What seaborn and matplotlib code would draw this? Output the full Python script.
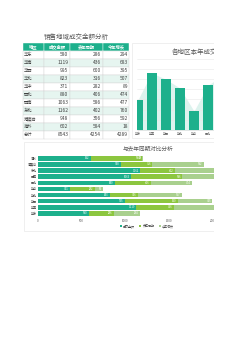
import matplotlib
matplotlib.use("Agg")
import matplotlib.pyplot as plt
from matplotlib.patches import Rectangle, Patch
import seaborn as sns
import pandas as pd

sns.set_theme(style="white")
plt.rcParams['font.family'] = ['Noto Sans CJK SC', 'DejaVu Sans']

# ---------------- data ----------------
regions = ['华东', '华南', '华西', '华北', '华中', '西北', '西南', '东北', '港澳台', '海外']
amount = [580, 1119, 995, 823, 371, 880, 1063, 1162, 948, 602]
last_year = [286, 436, 600, 316, 282, 406, 586, 402, 356, 584]
growth = [294, 683, 395, 507, 89, 474, 477, 760, 592, 18]
total_label = '总计'
totals = [8543, 4254, 4289]
headers = ['地区', '成交金额', '去年同期', '今年增长']
legend_labels = ['成交金额', '去年同期', '今年增长']
x_ticks = [0, 500, 1000, 1500, 2000]
table_title = '销售地域成交金额分析'
bar_title = '各地区本年成交金额'
stack_title = '与去年同期对比分析'

TEAL = '#1DB08C'
GREEN = '#8CC63F'
PALE = '#A9D08E'
LIGHT_ROW = '#E6F5F0'
AREA = '#DDF3EE'
TXT = '#404040'
GRAY = '#595959'

W, H = 250, 354
CROP = 213.5
fig = plt.figure(figsize=(W / 100, H / 100), dpi=100)
fig.patch.set_facecolor('white')


def rect(l, t, r, b):
    return [l / W, 1 - b / H, (r - l) / W, (b - t) / H]


# ---------------- background / table (pixel coords) ----------------
bg = fig.add_axes([0, 0, 1, 1])
bg.set_xlim(0, W)
bg.set_ylim(H, 0)
bg.axis('off')

bg.text(76, 36.7, table_title, ha='center', va='center', fontsize=4.7, color=GRAY)

col_edges = [22.7, 44.3, 70.0, 102.7, 129.3]
row_h = 8.0
top = 42.7
for j in range(4):
    bg.add_patch(Rectangle((col_edges[j], top), col_edges[j + 1] - col_edges[j], row_h,
                           facecolor=TEAL, edgecolor='white', lw=0.3))
    bg.text((col_edges[j] + col_edges[j + 1]) / 2, top + row_h / 2 + 0.2, headers[j],
            ha='center', va='center', fontsize=3.1, color='white', fontweight='bold')

rows = [[r, a, l, g] for r, a, l, g in zip(regions, amount, last_year, growth)]
rows.append([total_label] + totals)
for i, row in enumerate(rows):
    y0 = top + row_h * (i + 1)
    fc = LIGHT_ROW if (i % 2 == 1 and i < len(regions)) else 'white'
    for j in range(4):
        bg.add_patch(Rectangle((col_edges[j], y0), col_edges[j + 1] - col_edges[j], row_h,
                               facecolor=fc, edgecolor='#D4D4D4', lw=0.3))
    yc = y0 + row_h / 2 + 0.2
    bg.text(col_edges[0] + 1.2, yc, row[0], ha='left', va='center', fontsize=3.1, color=TXT)
    for j in range(1, 4):
        bg.text(col_edges[j + 1] - 1.5, yc, str(row[j]), ha='right', va='center',
                fontsize=3.5, color=TXT)

# chart frames (cut at the crop line like the sheet)
bg.add_patch(Rectangle((131.7, 43.3), CROP + 5 - 131.7, 138.3 - 43.3, facecolor='white',
                       edgecolor='#E3E3E3', lw=0.4))
bg.add_patch(Rectangle((24, 141.7), CROP + 5 - 24, 231 - 141.7, facecolor='white',
                       edgecolor='#E3E3E3', lw=0.4))
bg.text(172, 52, bar_title, ha='left', va='center', fontsize=4.7, color=GRAY,
        clip_on=True, clip_box=None)
bg.text(147.5, 149, stack_title, ha='center', va='center', fontsize=4.1, color=GRAY)

# ---------------- top-right bar chart ----------------
ax1 = fig.add_axes(rect(137, 58.6, 270, 130))
ax1.set_facecolor('none')
df1 = pd.DataFrame({'region': regions, 'amount': amount})
ax1.fill_between(range(len(regions)), amount, color=AREA, lw=0, zorder=0)
sns.barplot(data=df1, x='region', y='amount', color=TEAL, width=0.71, saturation=1,
            linewidth=0, edgecolor='none', ax=ax1, zorder=2)
ax1.set_ylim(0, 1400)
ax1.set_xlim(-0.043, 9.39)
ax1.set_yticks(range(0, 1401, 200))
ax1.yaxis.grid(True, color='#E8E8E8', lw=0.4)
ax1.set_axisbelow(True)
ax1.set_yticklabels([])
ax1.set_xlabel('')
ax1.set_ylabel('')
ax1.tick_params(axis='x', labelsize=2.2, length=0, pad=1.5, colors=GRAY)
ax1.tick_params(axis='y', length=0)
# categories beyond the sheet's visible edge are not shown
for i, lab in enumerate(ax1.get_xticklabels()):
    if 137.6 + 14.1 * i + 4 > CROP:
        lab.set_visible(False)
for s in ax1.spines.values():
    s.set_visible(False)
ax1.spines['bottom'].set_visible(True)
ax1.spines['bottom'].set_color('#D9D9D9')
ax1.spines['bottom'].set_linewidth(0.4)

# ---------------- stacked horizontal bar chart ----------------
ax2 = fig.add_axes(rect(37.7, 155.3, 37.7 + 219.5, 216.4))
ax2.set_facecolor('none')
df2 = pd.DataFrame({'region': regions, 'amount': amount, 'last': last_year, 'growth': growth})
df2['s3'] = df2['amount'] + df2['last'] + df2['growth']
df2['s2'] = df2['amount'] + df2['last']
order = regions[::-1]
for col, colr in [('s3', PALE), ('s2', GREEN), ('amount', TEAL)]:
    sns.barplot(data=df2, y='region', x=col, order=order, orient='h', color=colr,
                width=0.75, saturation=1, linewidth=0, edgecolor='none', ax=ax2)
ax2.set_xlim(0, 2500)
ax2.set_xticks(x_ticks)
ax2.set_xlabel('')
ax2.set_ylabel('')
ax2.tick_params(axis='x', labelsize=2.2, length=0, pad=2, colors=GRAY)
ax2.tick_params(axis='y', labelsize=2.2, length=0, pad=0.8, colors=TXT)
for s in ax2.spines.values():
    s.set_visible(False)

off = 14
for _, r in df2.iterrows():
    yi = order.index(r['region'])
    for end, val in [(r['amount'], r['amount']), (r['s2'], r['last']), (r['s3'], r['growth'])]:
        if 37.7 + (end - off) * 0.0878 > CROP:
            continue
        ax2.text(end - off, yi, str(val), ha='right', va='center', fontsize=2.0,
                 color='white')

handles = [Patch(facecolor=c, edgecolor='none') for c in (TEAL, GREEN, PALE)]
fig.legend(handles, legend_labels, loc='center', bbox_to_anchor=(147 / W, 1 - 226 / H),
           ncol=3, frameon=False, fontsize=2.2, handlelength=0.6, handleheight=0.6,
           handletextpad=0.4, columnspacing=1.5, labelcolor=TXT)

# ---------------- crop of the sheet at the visible edge ----------------
fig.add_artist(Rectangle((CROP / W, 0), 1 - CROP / W, 1, transform=fig.transFigure,
                         facecolor='white', edgecolor='none', zorder=50))

fig.savefig('out.png', dpi=100, facecolor='white')
